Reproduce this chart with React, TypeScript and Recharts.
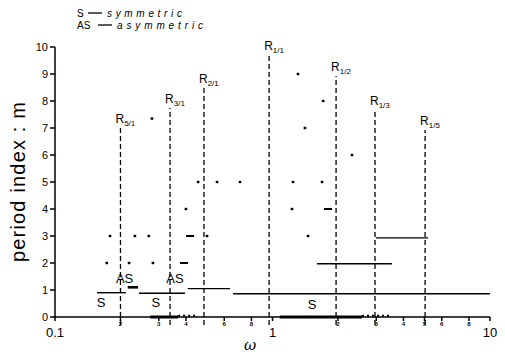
import React from 'react';
import { ScatterChart, Scatter, XAxis, YAxis, ReferenceLine, ReferenceDot } from 'recharts';

// resonance lines R_{p/q}: position in omega and height of the dashed line
const resonanceNames = ['5/1', '3/1', '2/1', '1/1', '1/2', '1/3', '1/5'];
const resonanceOmega = [0.2, 0.338, 0.484, 0.965, 1.96, 2.96, 5.03];
const resonanceTop = [7.0, 7.74, 8.48, 9.7, 8.93, 7.67, 6.93];

// isolated subharmonic points (omega, m)
const dotOmega = [0.173, 0.219, 0.282, 0.179, 0.233, 0.27, 0.5, 1.457, 0.4, 1.229, 0.455, 0.556, 0.709, 1.243, 1.69, 2.32, 1.41, 0.279, 1.71, 1.31];
const dotM = [2, 2, 2, 3, 3, 3, 3, 3, 4, 4, 5, 5, 5, 5, 5, 6, 7, 7.35, 8, 9];

// short dashes
const dashOmega = [0.392, 0.418, 1.8];
const dashM = [2, 3, 4];

// symmetric branches (horizontal segments)
const branchFrom = [0.156, 0.243, 0.408, 0.659, 1.6, 2.99];
const branchTo = [0.212, 0.396, 0.638, 10, 3.54, 5.19];
const branchM = [0.9, 0.88, 1.05, 0.86, 1.97, 2.93];

// asymmetric branch
const asFrom = [0.216];
const asTo = [0.241];
const asM = [1.1];

// m = 0 stretches
const zeroFrom = [0.274, 1.08];
const zeroTo = [0.368, 2.58];
const zeroDotTo = [0.45, 3.54];

// text marks on the plot
const sOmega = [0.163, 0.291, 1.52];
const sM = [0.57, 0.57, 0.5];
const asLabelOmega = [0.209, 0.356];
const asLabelM = [1.44, 1.44];

const xTicks = [0.1, 0.2, 0.3, 0.4, 0.5, 0.6, 0.7, 0.8, 0.9, 1, 2, 3, 4, 5, 6, 7, 8, 9, 10];
const yTicks = [0, 1, 2, 3, 4, 5, 6, 7, 8, 9, 10];

const dots = dotOmega.map((w, i) => ({ w, m: dotM[i] }));
const dashes = dashOmega.map((w, i) => ({ w, m: dashM[i] }));
const sLabels = sOmega.map((w, i) => ({ w, m: sM[i], name: 'S' }));
const asLabels = asLabelOmega.map((w, i) => ({ w, m: asLabelM[i], name: 'AS' }));

const FONT = '"Liberation Sans", Arial, sans-serif';

const XTick = (props: any) => {
  const { x, y, payload } = props;
  const v = payload.value;
  if (v === 0.1 || v === 1 || v === 10) {
    return (
      <text x={x} y={y + 14} textAnchor="middle" fontSize={13} fontFamily={FONT} fill="#000">
        {v}
      </text>
    );
  }
  const d = v < 1 ? Math.round(v * 10) : Math.round(v);
  return (
    <text x={x} y={y + 3} textAnchor="middle" fontSize={6} fontWeight="bold" fontFamily={FONT} fill="#000">
      {d}
    </text>
  );
};

const DotShape = (p: any) => <rect x={p.cx - 1.3} y={p.cy - 1.2} width={2.6} height={2.4} fill="#000" />;
const DashShape = (p: any) => <rect x={p.cx - 4} y={p.cy - 1} width={8} height={2} fill="#000" />;

const rLabel = (name: string) => (p: any) => (
  <text x={p.cx - 5} y={p.cy - 5} fontFamily={FONT} fill="#000">
    <tspan fontSize={12}>R</tspan>
    <tspan fontSize={8} dy={3}>{name}</tspan>
  </text>
);

const TextShape = (p: any) => (
  <text x={p.cx} y={p.cy + 5} textAnchor="middle" fontSize={13} fontFamily={FONT} fill="#000">
    {p.payload.name}
  </text>
);

export default function App() {
  return (
    <div style={{ position: 'absolute', left: 0, top: 0, width: 505, height: 357, background: '#fff' }}>
      <ScatterChart width={505} height={357} margin={{ top: 47, right: 15, bottom: 10, left: 15 }}>
        <XAxis
          type="number"
          dataKey="w"
          scale="log"
          domain={[0.1, 10]}
          ticks={xTicks}
          tick={<XTick />}
          tickSize={4}
          height={30}
          stroke="#000"
          strokeWidth={1.5}
          allowDataOverflow
        />
        <YAxis
          type="number"
          dataKey="m"
          domain={[0, 10]}
          ticks={yTicks}
          tickSize={5}
          tickMargin={2}
          width={40}
          stroke="#000"
          strokeWidth={1.5}
          tick={{ fill: '#000', fontSize: 11, fontFamily: FONT }}
          allowDataOverflow
        />
        {resonanceOmega.map((w, i) => (
          <ReferenceLine
            key={'r' + i}
            segment={[{ x: w, y: -0.3 }, { x: w, y: resonanceTop[i] }]}
            stroke="#000"
            strokeWidth={1.3}
            strokeDasharray="5 3"
            ifOverflow="visible"
          />
        ))}
        {resonanceOmega.map((w, i) => (
          <ReferenceDot
            key={'rl' + i}
            x={w}
            y={resonanceTop[i]}
            r={0}
            ifOverflow="visible"
            shape={rLabel(resonanceNames[i])}
          />
        ))}
        {branchFrom.map((f, i) => (
          <ReferenceLine
            key={'b' + i}
            segment={[{ x: f, y: branchM[i] }, { x: branchTo[i], y: branchM[i] }]}
            stroke="#000"
            strokeWidth={1.4}
            ifOverflow="visible"
          />
        ))}
        {asFrom.map((f, i) => (
          <ReferenceLine
            key={'a' + i}
            segment={[{ x: f, y: asM[i] }, { x: asTo[i], y: asM[i] }]}
            stroke="#000"
            strokeWidth={2.6}
            ifOverflow="visible"
          />
        ))}
        {zeroFrom.map((f, i) => (
          <ReferenceLine
            key={'z' + i}
            segment={[{ x: f, y: 0 }, { x: zeroTo[i], y: 0 }]}
            stroke="#000"
            strokeWidth={3}
            ifOverflow="visible"
          />
        ))}
        {zeroTo.map((f, i) => (
          <ReferenceLine
            key={'zd' + i}
            segment={[{ x: f, y: 0.05 }, { x: zeroDotTo[i], y: 0.05 }]}
            stroke="#000"
            strokeWidth={2}
            strokeDasharray="2 3"
            ifOverflow="visible"
          />
        ))}
        <Scatter data={dots} shape={DotShape} isAnimationActive={false} />
        <Scatter data={dashes} shape={DashShape} isAnimationActive={false} />
        <Scatter data={sLabels} shape={TextShape} isAnimationActive={false} />
        <Scatter data={asLabels} shape={TextShape} isAnimationActive={false} />
      </ScatterChart>
      <svg width={505} height={357} style={{ position: 'absolute', left: 0, top: 0, pointerEvents: 'none' }}>
        <g fontFamily={FONT} fill="#000" fontSize={10}>
          <text x={77} y={17}>S</text>
          <line x1={88} x2={102} y1={13} y2={13} stroke="#000" strokeWidth={1.3} />
          <text x={107} y={17} fontStyle="italic" textLength={75} lengthAdjust="spacing">symmetric</text>
          <text x={77} y={29}>AS</text>
          <line x1={98} x2={112} y1={25} y2={25} stroke="#000" strokeWidth={1.3} />
          <text x={117} y={29} fontStyle="italic" textLength={86} lengthAdjust="spacing">asymmetric</text>
        </g>
        <text
          transform="translate(25,182) rotate(-90)"
          textAnchor="middle"
          fontSize={20}
          fontFamily={FONT}
          textLength={160}
          lengthAdjust="spacing"
          fill="#000"
        >
          period index : m
        </text>
        <text x={250} y={350} textAnchor="middle" fontSize={15} fontStyle="italic" fontFamily='"DejaVu Serif", serif' fill="#000">
          ω
        </text>
      </svg>
    </div>
  );
}
